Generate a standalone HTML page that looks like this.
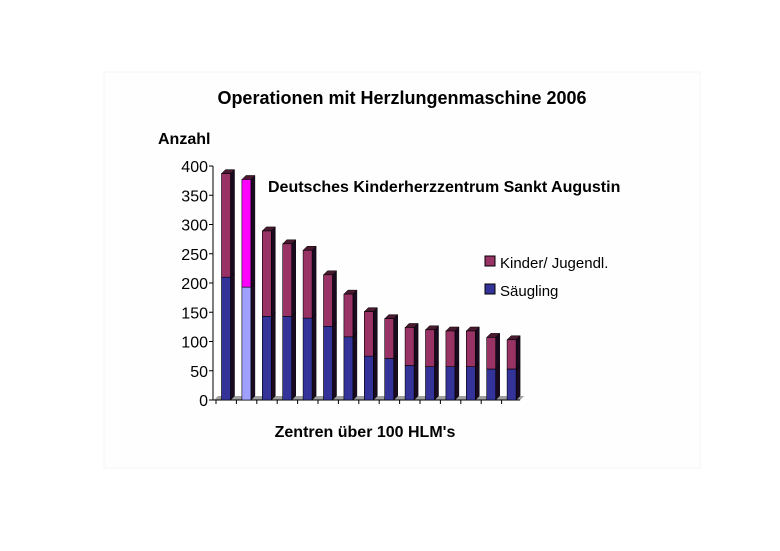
<!DOCTYPE html>
<html><head><meta charset="utf-8"><style>
body{margin:0;background:#fff;}
svg text{font-family:"Liberation Sans",Arial,sans-serif;fill:#000;}
</style></head><body>
<svg width="780" height="546" viewBox="0 0 780 546">
<rect x="104" y="72" width="596" height="396" fill="#fefefe" stroke="#f4f4f4"/>
<text x="402" y="104" font-size="18" font-weight="bold" text-anchor="middle">Operationen mit Herzlungenmaschine 2006</text>
<text x="158" y="144" font-size="16" font-weight="bold">Anzahl</text>
<text x="268" y="192" font-size="16" font-weight="bold">Deutsches Kinderherzzentrum Sankt Augustin</text>
<text x="365" y="437" font-size="16" font-weight="bold" text-anchor="middle">Zentren über 100 HLM's</text>
<g>
<rect x="485" y="256" width="10" height="10" fill="#993366" stroke="#000"/>
<text x="500" y="268" font-size="15">Kinder/ Jugendl.</text>
<rect x="485" y="284" width="10" height="10" fill="#333399" stroke="#000"/>
<text x="500" y="296" font-size="15">Säugling</text>
</g>
<g id="plot"></g>
</svg>
<script>
const categories=["1","2","3","4","5","6","7","8","9","10","11","12","13","14","15"];
const saeugling=[210,193,143,143,140,126,108,75,71,59,57,57,57,53,53];
const kinder=[177,184,146,124,116,88,73,76,68,65,63,61,61,54,50];
const yTicks=[0,50,100,150,200,250,300,350,400];
const NS="http://www.w3.org/2000/svg";
const plot=document.getElementById('plot');
const y0=400,yTop=166,yMax=400;
function y(v){return y0-(v/yMax)*(y0-yTop);}
function x(i){return 221.5+i*20.4;}
function mk(tag,attrs,parent){const e=document.createElementNS(NS,tag);for(const k in attrs)e.setAttribute(k,attrs[k]);(parent||plot).appendChild(e);return e;}
const d=4;
// floor
const floor=mk('polygon',{points:`214,${y0} ${x(14)+13},${y0} ${x(14)+17},${y0-4} 218,${y0-4}`,fill:'#a0a0a0'});


// axes
const ax=mk('line',{x1:213,y1:y0,x2:213,y2:yTop,stroke:'#000'});


const bx=mk('line',{x1:213,y1:y0,x2:x(14)+13,y2:y0,stroke:'#000'});


yTicks.forEach(t=>{
  const l=mk('line',{x1:209,y1:y(t),x2:213,y2:y(t),stroke:'#000'});
  
  
  const tx=mk('text',{x:208,y:y(t)+6,'font-size':16,'text-anchor':'end'});
  tx.textContent=t;
  
  
});
categories.forEach((c,i)=>{
  const t=mk('line',{x1:x(i)-5.5,y1:y0,x2:x(i)-5.5,y2:y0+4,stroke:'#000'});
  
  
});
function bar3d(xl,yb,yt,front,name){
  const w=9;
  const g=mk('g',{});
  
  
  mk('polygon',{points:`${xl+w},${yb} ${xl+w+d},${yb-d} ${xl+w+d},${yt-d} ${xl+w},${yt}`,fill:'#1a0a20',stroke:'#000','stroke-width':0.5},g);
  mk('polygon',{points:`${xl},${yt} ${xl+d},${yt-d} ${xl+w+d},${yt-d} ${xl+w},${yt}`,fill:'#4a1a30',stroke:'#000','stroke-width':0.5},g);
  mk('rect',{x:xl,y:yt,width:w,height:yb-yt,fill:front,stroke:'#000','stroke-width':0.6},g);
}
categories.forEach((c,i)=>{
  const s=saeugling[i],k=kinder[i];
  const hl=i===1;
  bar3d(x(i),y(0),y(s),hl?'#a0a0ff':'#333399','bar-saeugling-'+c);
  bar3d(x(i),y(s),y(s+k),hl?'#ff00ff':'#993366','bar-kinder-'+c);
});
</script>
</body></html>
